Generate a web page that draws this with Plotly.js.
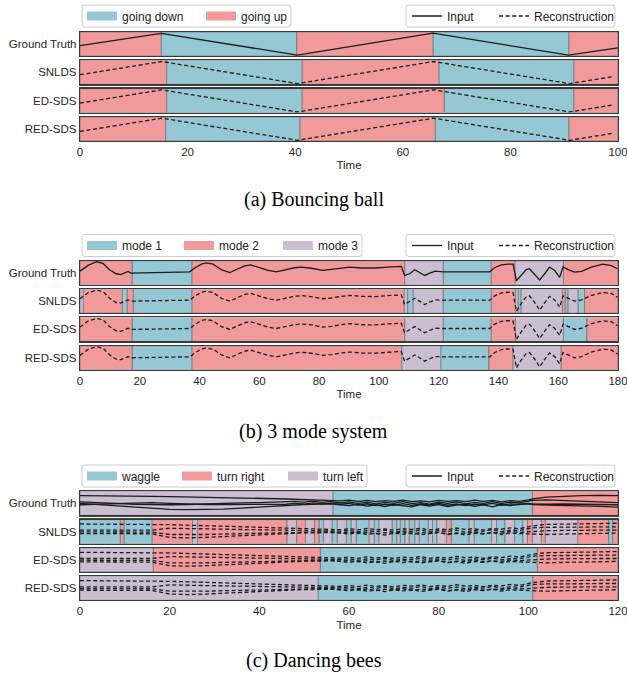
<!DOCTYPE html>
<html><head><meta charset="utf-8">
<script src="https://cdn.plot.ly/plotly-3.0.1.min.js"></script>
<style>html,body{margin:0;padding:0;background:#fff}#chart{width:627px;height:675px}</style>
</head><body><div id="chart"></div>
<script>
// ---------------- data ----------------
const rowNames = ['Ground Truth', 'SNLDS', 'ED-SDS', 'RED-SDS'];
const lineNames = ['Input', 'Reconstruction'];

// (a) Bouncing ball
const ballModes = ['going down', 'going up'];
const ballTicks = [0, 20, 40, 60, 80, 100];
const ballGTBounds = [0, 15.1, 40.3, 65.6, 90.9, 100];
const ballGTSeg = [1, 0, 1, 0, 1];
const ballSNLDSBounds = [0, 16.1, 41.3, 66.7, 91.8, 100];
const ballSNLDSSeg = [1, 0, 1, 0, 1];
const ballEDBounds = [0, 16.1, 41.3, 67.7, 91.8, 100];
const ballEDSeg = [1, 0, 1, 0, 1];
const ballREDBounds = [0, 15.9, 40.9, 66.0, 90.9, 100];
const ballREDSeg = [1, 0, 1, 0, 1];
const ballInputT = [0, 15.1, 40.4, 65.6, 90.8, 100];
const ballInputY = [0.43, 0.94, 0.04, 0.95, 0.04, 0.34];
const ballReconT = [0, 15.2, 40.4, 65.7, 91.0, 99.3];
const ballReconY = [0.40, 0.95, 0.03, 0.95, 0.03, 0.33];

// (b) 3 mode system
const sysModes = ['mode 1', 'mode 2', 'mode 3'];
const sysTicks = [0, 20, 40, 60, 80, 100, 120, 140, 160, 180];
const sysGTBounds = [0, 17.4, 37.5, 108.7, 121.5, 137.6, 145.6, 161.7, 180];
const sysGTSeg = [1, 0, 1, 2, 0, 1, 2, 1];
const sysSNLDSBounds = [0, 1.1, 14.1, 15.8, 17.8, 37.5, 108.5, 109.6, 111.5, 121.5, 137.6, 145.7, 146.6, 147.6, 161.4, 162.3, 163.3, 166.6, 168.8, 180];
const sysSNLDSSeg = [2, 1, 0, 1, 0, 1, 2, 0, 2, 0, 1, 2, 0, 2, 1, 0, 2, 0, 1];
const sysEDBounds = [0, 17.4, 37.5, 108.7, 121.5, 137.6, 145.7, 161.7, 169.6, 180];
const sysEDSeg = [1, 0, 1, 2, 0, 1, 2, 0, 1];
const sysREDBounds = [0, 17.4, 37.5, 107.7, 120.7, 136.8, 144.9, 160.9, 180];
const sysREDSeg = [1, 0, 1, 2, 0, 1, 2, 1];
const sysT = [0, 2.7, 5.5, 7.7, 9.9, 12.1, 13.6, 15.2, 16.1, 17, 20, 25, 30, 36.7, 38.4, 40.6, 42.3, 44.5, 47.3, 50.1, 52.9, 55.1, 57.1, 59.5, 62.9, 65.7, 68.5, 71.8, 74, 77.4, 81.3, 84.1, 87.4, 90.3, 94.1, 98.6, 103, 107.5, 108.6, 110.3, 112, 113.6, 115.3, 117, 118.9, 121.4, 125, 130, 137.1, 138.7, 141, 143.2, 144.9, 146, 147.6, 149.3, 150.4, 152.1, 153.8, 155.4, 157.1, 158.8, 160.5, 161.6, 163.3, 165.5, 167.8, 171.1, 175, 177.8, 179.8];
const sysInput = [0.57, 0.81, 0.96, 0.89, 0.63, 0.46, 0.43, 0.51, 0.56, 0.49, 0.50, 0.51, 0.51, 0.54, 0.70, 0.86, 0.91, 0.86, 0.63, 0.51, 0.67, 0.79, 0.83, 0.74, 0.60, 0.54, 0.63, 0.71, 0.74, 0.69, 0.60, 0.64, 0.71, 0.74, 0.70, 0.70, 0.74, 0.77, 0.39, 0.46, 0.63, 0.53, 0.39, 0.49, 0.57, 0.54, 0.54, 0.53, 0.54, 0.71, 0.83, 0.86, 0.86, 0.17, 0.39, 0.63, 0.67, 0.45, 0.20, 0.45, 0.74, 0.60, 0.31, 0.74, 0.63, 0.53, 0.56, 0.74, 0.86, 0.80, 0.67];
const sysRecon = [0.60, 0.85, 0.96, 0.90, 0.62, 0.44, 0.42, 0.50, 0.55, 0.50, 0.51, 0.52, 0.52, 0.54, 0.70, 0.87, 0.91, 0.86, 0.62, 0.50, 0.66, 0.78, 0.82, 0.74, 0.60, 0.54, 0.62, 0.70, 0.73, 0.69, 0.60, 0.63, 0.70, 0.74, 0.70, 0.69, 0.73, 0.76, 0.36, 0.48, 0.62, 0.50, 0.36, 0.46, 0.55, 0.54, 0.54, 0.53, 0.54, 0.72, 0.84, 0.87, 0.85, 0.08, 0.40, 0.68, 0.72, 0.45, 0.12, 0.42, 0.70, 0.55, 0.25, 0.72, 0.62, 0.50, 0.55, 0.74, 0.86, 0.82, 0.66];

// (c) Dancing bees
const beeModes = ['waggle', 'turn right', 'turn left'];
const beeTicks = [0, 20, 40, 60, 80, 100, 120];
const beeGTBounds = [0, 56.4, 100.9, 120];
const beeGTSeg = [2, 0, 1];
const beeSNLDSBounds = [0, 9, 9.8, 16.1, 25.1, 26.2, 46.2, 48.3, 50.3, 52.3, 53.3, 54.3, 56.2, 57.4, 59.4, 60.5, 61.6, 64.5, 65.6, 66.7, 69.6, 70.7, 71.4, 72.5, 73.4, 74.7, 75.6, 77.7, 78.6, 79.6, 81.7, 82.8, 86.8, 87.9, 91.8, 92.9, 94.8, 96.9, 98.8, 99.8, 100.9, 102.9, 103.8, 111, 117.9, 118.8, 120];
const beeSNLDSSeg = [0, 1, 0, 1, 2, 1, 2, 1, 2, 1, 0, 2, 0, 2, 0, 2, 0, 2, 0, 2, 0, 2, 0, 2, 0, 2, 0, 2, 0, 2, 1, 0, 2, 0, 2, 0, 2, 0, 2, 1, 2, 1, 2, 1, 0, 1];
const beeEDBounds = [0, 16.3, 53.6, 102, 120];
const beeEDSeg = [2, 1, 0, 1];
const beeREDBounds = [0, 53.1, 101, 120];
const beeREDSeg = [2, 0, 1];
const beeT = [0, 4, 8, 12, 16, 20, 24, 28, 32, 36, 40, 44, 46, 48, 50, 52, 54, 56, 58, 60, 62, 64, 66, 68, 70, 72, 74, 76, 78, 80, 82, 84, 86, 88, 90, 92, 94, 96, 98, 100, 101, 104, 108, 112, 116, 120];
const beeInput1 = [0.82, 0.82, 0.81, 0.80, 0.79, 0.78, 0.77, 0.76, 0.75, 0.73, 0.71, 0.69, 0.68, 0.67, 0.66, 0.65, 0.64, 0.62, 0.60, 0.63, 0.58, 0.62, 0.57, 0.61, 0.58, 0.63, 0.57, 0.60, 0.56, 0.62, 0.58, 0.61, 0.57, 0.63, 0.58, 0.62, 0.56, 0.61, 0.58, 0.64, 0.68, 0.76, 0.80, 0.82, 0.83, 0.82];
const beeInput2 = [0.56, 0.54, 0.50, 0.46, 0.44, 0.44, 0.45, 0.48, 0.50, 0.52, 0.53, 0.55, 0.56, 0.58, 0.55, 0.59, 0.54, 0.57, 0.52, 0.56, 0.50, 0.55, 0.48, 0.54, 0.50, 0.57, 0.49, 0.53, 0.47, 0.55, 0.50, 0.56, 0.48, 0.54, 0.50, 0.57, 0.49, 0.55, 0.52, 0.60, 0.62, 0.64, 0.62, 0.58, 0.55, 0.53];
const beeInput3 = [0.50, 0.45, 0.40, 0.34, 0.29, 0.25, 0.24, 0.24, 0.26, 0.30, 0.35, 0.40, 0.42, 0.44, 0.45, 0.46, 0.47, 0.48, 0.44, 0.40, 0.46, 0.38, 0.44, 0.36, 0.45, 0.40, 0.35, 0.44, 0.38, 0.45, 0.36, 0.42, 0.46, 0.37, 0.43, 0.35, 0.45, 0.40, 0.46, 0.48, 0.47, 0.46, 0.47, 0.45, 0.44, 0.44];
const beeInput4 = [0.44, 0.46, 0.50, 0.53, 0.53, 0.50, 0.47, 0.45, 0.45, 0.46, 0.46, 0.47, 0.46, 0.50, 0.47, 0.52, 0.48, 0.50, 0.46, 0.50, 0.43, 0.48, 0.40, 0.46, 0.42, 0.49, 0.41, 0.47, 0.43, 0.50, 0.42, 0.47, 0.40, 0.46, 0.44, 0.50, 0.42, 0.48, 0.45, 0.50, 0.45, 0.42, 0.41, 0.40, 0.37, 0.34];
const beeRecon1 = [0.82, 0.82, 0.82, 0.82, 0.81, 0.79, 0.77, 0.75, 0.73, 0.71, 0.68, 0.65, 0.64, 0.63, 0.62, 0.61, 0.60, 0.60, 0.58, 0.62, 0.57, 0.63, 0.58, 0.61, 0.56, 0.62, 0.59, 0.64, 0.57, 0.61, 0.58, 0.65, 0.59, 0.62, 0.57, 0.63, 0.60, 0.66, 0.62, 0.70, 0.74, 0.80, 0.82, 0.84, 0.85, 0.85];
const beeRecon2 = [0.56, 0.56, 0.55, 0.55, 0.56, 0.64, 0.63, 0.62, 0.61, 0.60, 0.58, 0.57, 0.56, 0.56, 0.55, 0.55, 0.54, 0.54, 0.52, 0.55, 0.49, 0.54, 0.50, 0.56, 0.48, 0.53, 0.51, 0.57, 0.49, 0.54, 0.50, 0.56, 0.48, 0.55, 0.51, 0.58, 0.50, 0.56, 0.55, 0.62, 0.66, 0.68, 0.70, 0.69, 0.70, 0.70];
const beeRecon3 = [0.49, 0.49, 0.48, 0.48, 0.48, 0.38, 0.37, 0.38, 0.40, 0.42, 0.44, 0.46, 0.47, 0.48, 0.48, 0.49, 0.49, 0.49, 0.45, 0.48, 0.42, 0.47, 0.40, 0.46, 0.43, 0.49, 0.41, 0.46, 0.44, 0.48, 0.40, 0.45, 0.43, 0.49, 0.42, 0.47, 0.44, 0.50, 0.47, 0.50, 0.52, 0.54, 0.55, 0.54, 0.56, 0.56];
const beeRecon4 = [0.42, 0.42, 0.42, 0.41, 0.41, 0.26, 0.24, 0.26, 0.30, 0.34, 0.38, 0.41, 0.43, 0.44, 0.45, 0.45, 0.46, 0.46, 0.44, 0.40, 0.46, 0.38, 0.43, 0.36, 0.44, 0.39, 0.45, 0.37, 0.42, 0.46, 0.38, 0.43, 0.36, 0.44, 0.40, 0.46, 0.38, 0.44, 0.42, 0.40, 0.40, 0.38, 0.40, 0.42, 0.44, 0.44];

const captions = ['(a) Bouncing ball', '(b) 3 mode system', '(c) Dancing bees'];

// ---------------- style / layout constants ----------------
const W = 627, H = 675;
const X0 = 80, X1 = 618;
const modeColors = ['#96c7d4', '#f19a9b', '#ccbed1'];
const segEdge = 'rgba(85,95,100,0.55)';
const frameColor = '#3a3a3a';
const inkColor = '#1c1c1c';
const sans = '"Liberation Sans", Arial, sans-serif';
const serif = '"Liberation Serif", "Times New Roman", serif';
const panelTop = [32, 260.8, 491.3];
const rowStep = 28.33, rowH = 24;
const legendCY = [16, 245.5, 476];
const leftSwatchX = [[87, 206], [87, 184, 283], [87, 182, 288]];
const leftBoxX = [[82, 291], [82, 362], [82, 367]];
const rightSwatchX = [412, 499];
const rightBoxX = [406, 615];
const captionY = [199, 431, 660];

const panels = [
  {modes: ballModes, ticks: ballTicks, range: [0, 100],
   bounds: [ballGTBounds, ballSNLDSBounds, ballEDBounds, ballREDBounds],
   segs: [ballGTSeg, ballSNLDSSeg, ballEDSeg, ballREDSeg],
   inT: ballInputT, inputs: [ballInputY], reT: ballReconT, recons: [ballReconY]},
  {modes: sysModes, ticks: sysTicks, range: [0, 180],
   bounds: [sysGTBounds, sysSNLDSBounds, sysEDBounds, sysREDBounds],
   segs: [sysGTSeg, sysSNLDSSeg, sysEDSeg, sysREDSeg],
   inT: sysT, inputs: [sysInput], reT: sysT, recons: [sysRecon]},
  {modes: beeModes, ticks: beeTicks, range: [0, 120],
   bounds: [beeGTBounds, beeSNLDSBounds, beeEDBounds, beeREDBounds],
   segs: [beeGTSeg, beeSNLDSSeg, beeEDSeg, beeREDSeg],
   inT: beeT, inputs: [beeInput1, beeInput2, beeInput3, beeInput4],
   reT: beeT, recons: [beeRecon1, beeRecon2, beeRecon3, beeRecon4]}
];

const px = v => v / W;
const py = v => 1 - v / H;

const traces = [];
const layout = {
  width: W, height: H,
  margin: {l: 0, r: 0, t: 0, b: 0},
  paper_bgcolor: '#ffffff', plot_bgcolor: '#ffffff',
  barmode: 'overlay', bargap: 0,
  showlegend: true,
  font: {family: sans, size: 11.5, color: '#262626'},
  shapes: [], annotations: []
};

let legendCount = 0;
function newLegend(swatchX, cy) {
  legendCount += 1;
  const key = legendCount === 1 ? 'legend' : 'legend' + legendCount;
  layout[key] = {
    x: px(swatchX - 5), xanchor: 'left', xref: 'paper',
    y: py(cy), yanchor: 'middle', yref: 'paper',
    bgcolor: 'rgba(0,0,0,0)', borderwidth: 0,
    font: {family: sans, size: 12, color: '#222222'},
    orientation: 'h', itemclick: false, itemdoubleclick: false
  };
  return key;
}
function roundBox(x0, x1, cy) {
  const y0 = cy - 11, y1 = cy + 11, r = 3;
  const X = v => px(v), Y = v => py(v);
  const path = `M${X(x0 + r)},${Y(y0)} L${X(x1 - r)},${Y(y0)} Q${X(x1)},${Y(y0)} ${X(x1)},${Y(y0 + r)} ` +
    `L${X(x1)},${Y(y1 - r)} Q${X(x1)},${Y(y1)} ${X(x1 - r)},${Y(y1)} L${X(x0 + r)},${Y(y1)} ` +
    `Q${X(x0)},${Y(y1)} ${X(x0)},${Y(y1 - r)} L${X(x0)},${Y(y0 + r)} Q${X(x0)},${Y(y0)} ${X(x0 + r)},${Y(y0)} Z`;
  layout.shapes.push({type: 'path', xref: 'paper', yref: 'paper', path: path,
    line: {color: '#cccccc', width: 1}, fillcolor: '#ffffff', layer: 'below'});
}

panels.forEach((P, p) => {
  // legend boxes
  roundBox(leftBoxX[p][0], leftBoxX[p][1], legendCY[p]);
  roundBox(rightBoxX[0], rightBoxX[1], legendCY[p]);
  const modeLegends = P.modes.map((m, i) => newLegend(leftSwatchX[p][i], legendCY[p]));
  const lineLegends = lineNames.map((n, i) => newLegend(rightSwatchX[i], legendCY[p]));

  for (let r = 0; r < 4; r++) {
    const k = p * 4 + r + 1;
    const xa = 'x' + (k > 1 ? k : ''), ya = 'y' + (k > 1 ? k : '');
    const top = panelTop[p] + rowStep * r, bot = top + rowH;
    const bottomRow = r === 3;
    layout['xaxis' + (k > 1 ? k : '')] = {
      domain: [px(X0), px(X1)], anchor: ya, range: P.range,
      showgrid: false, zeroline: false,
      showline: true, mirror: true, linecolor: frameColor, linewidth: 1.2,
      tickmode: 'array', tickvals: P.ticks, ticktext: P.ticks.map(String),
      showticklabels: bottomRow, ticks: '',
      ticklabeloverflow: 'allow',
      tickfont: {family: sans, size: 11.5, color: '#262626'},
      title: bottomRow ? {text: 'Time', font: {family: sans, size: 11.5, color: '#262626'}, standoff: 4} : {text: ''},
      fixedrange: true
    };
    layout['yaxis' + (k > 1 ? k : '')] = {
      domain: [py(bot), py(top)], anchor: xa, range: [0, 1],
      showgrid: false, zeroline: false,
      showline: true, mirror: true, linecolor: frameColor, linewidth: 1.2,
      tickmode: 'array', tickvals: [0.5], ticktext: [rowNames[r]], ticks: '',
      ticklabeloverflow: 'allow',
      tickfont: {family: sans, size: 11.5, color: '#262626'},
      fixedrange: true
    };
    // segments
    const b = P.bounds[r], s = P.segs[r];
    P.modes.forEach((m, mi) => {
      const base = [], wid = [];
      s.forEach((sm, j) => { if (sm === mi) { base.push(b[j]); wid.push(b[j + 1] - b[j]); } });
      if (!base.length) return;
      traces.push({type: 'bar', orientation: 'h', name: m, xaxis: xa, yaxis: ya,
        base: base, x: wid, y: base.map(() => 0.5), width: 1,
        marker: {color: modeColors[mi], line: {color: segEdge, width: 1}},
        showlegend: false, hoverinfo: 'skip'});
    });
    // lines
    const isGT = r === 0;
    const series = isGT ? P.inputs : P.recons;
    const tt = isGT ? P.inT : P.reT;
    series.forEach((ys, li) => {
      const first = (r === 0 && li === 0) || (r === 1 && li === 0);
      traces.push({type: 'scatter', mode: 'lines', xaxis: xa, yaxis: ya,
        x: tt, y: ys, name: isGT ? lineNames[0] : lineNames[1],
        line: {color: inkColor, width: 1.3, dash: isGT ? 'solid' : '4px,2.6px'},
        showlegend: first, legend: isGT ? lineLegends[0] : lineLegends[1],
        hoverinfo: 'skip'});
    });
  }
  // mode legend entries (swatches)
  P.modes.forEach((m, mi) => {
    traces.push({type: 'scatter', mode: 'lines', x: [null], y: [null],
      xaxis: 'x' + (p * 4 + 1 > 1 ? p * 4 + 1 : ''), yaxis: 'y' + (p * 4 + 1 > 1 ? p * 4 + 1 : ''),
      name: m, legend: modeLegends[mi], showlegend: true,
      line: {color: modeColors[mi], width: 9}, hoverinfo: 'skip'});
  });
  layout.annotations.push({xref: 'paper', yref: 'paper', x: 0.5, y: py(captionY[p]),
    xanchor: 'center', yanchor: 'middle', showarrow: false, text: captions[p],
    font: {family: serif, size: 20, color: '#000000'}});
});

Plotly.newPlot('chart', traces, layout, {displayModeBar: false, staticPlot: true});
</script>
</body></html>
